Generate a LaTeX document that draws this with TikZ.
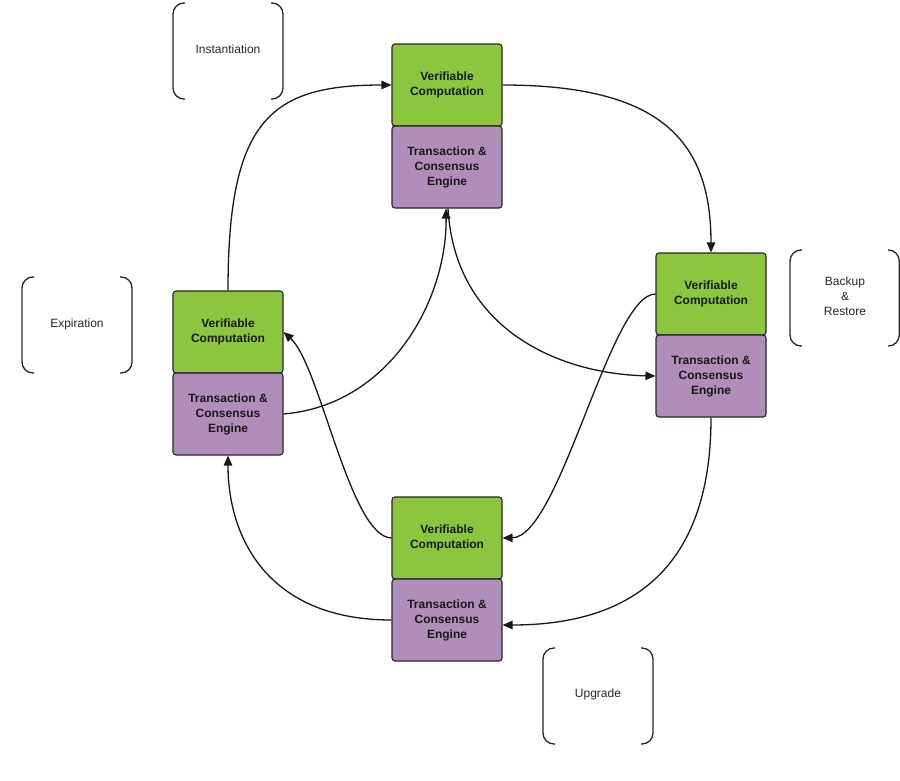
\documentclass[tikz,border=0pt]{standalone}
\usepackage{fontspec}
\setmainfont{Liberation Sans}
\usetikzlibrary{arrows.meta}
\definecolor{vcgreen}{RGB}{140,198,63}
\definecolor{tcpurple}{RGB}{177,141,185}
\definecolor{labgray}{RGB}{40,40,40}
\tikzset{
  box/.style={draw=black!85, line width=1.1pt, rounded corners=3pt, minimum width=110pt, minimum height=82pt, inner sep=0pt, align=center, font=\bfseries\fontsize{12}{15}\selectfont, text=black!90},
  vcbox/.style={box, fill=vcgreen},
  tcbox/.style={box, fill=tcpurple},
  conn/.style={draw=black!90, line width=1.3pt},
  arr/.style={conn, -{Triangle[length=10pt,width=8.5pt]}},
  brack/.style={draw=black!85, line width=1.3pt, rounded corners=11pt},
  blabel/.style={align=center, font=\fontsize{12}{15}\selectfont, text=labgray}
}
\begin{document}
\begin{tikzpicture}[x=1pt,y=-1pt]
\useasboundingbox[fill=white] (0,0) rectangle (900,780);

% boxes
\node[vcbox] (vt) at (447,85) {Verifiable\\Computation};
\node[tcbox] (pt) at (447,167) {Transaction \&\\Consensus\\Engine};
\node[vcbox] (vr) at (711,294) {Verifiable\\Computation};
\node[tcbox] (pr) at (711,376) {Transaction \&\\Consensus\\Engine};
\node[vcbox] (vl) at (228,332) {Verifiable\\Computation};
\node[tcbox] (pl) at (228,414) {Transaction \&\\Consensus\\Engine};
\node[vcbox] (vb) at (447,538) {Verifiable\\Computation};
\node[tcbox] (pb) at (447,620) {Transaction \&\\Consensus\\Engine};

% bracket labels
\node[blabel] (inst) at (228,49) {Instantiation};
\node[blabel] (expi) at (77,324) {Expiration};
\node[blabel] (back) at (845,296) {Backup\\\&\\Restore};
\node[blabel] (upg) at (598,694) {Upgrade};

% brackets
\draw[brack] (185,3) -- (173,3) -- (173,99) -- (185,99);
\draw[brack] (271,3) -- (283,3) -- (283,99) -- (271,99);
\draw[brack] (34,277) -- (22,277) -- (22,373) -- (34,373);
\draw[brack] (120,277) -- (132,277) -- (132,373) -- (120,373);
\draw[brack] (802,250) -- (790,250) -- (790,346) -- (802,346);
\draw[brack] (888,250) -- (899.3,250) -- (899.3,346) -- (888,346);
\draw[brack] (555,648) -- (543,648) -- (543,744) -- (555,744);
\draw[brack] (641,648) -- (653,648) -- (653,744) -- (641,744);

% outer cycle
\draw[arr] (vl.north) .. controls (228,120) and (270,85) .. (vt.west);
\draw[arr] (vt.east) .. controls (660,85) and (711,140) .. (vr.north);
\draw[arr] (pr.south) .. controls (711,560) and (640,625) .. ([yshift=-5pt]pb.east);
\draw[arr] (pb.west) .. controls (270,620) and (228,540) .. (pl.south);

% inner connectors
\draw[arr] (pl.east) .. controls (390,405) and (447,300) .. ([xshift=-1pt]pt.south);
\draw[arr] ([xshift=1pt]pt.south) .. controls (455,330) and (560,374) .. (pr.west);
\draw[arr] (vr.west) .. controls (610,294) and (560,537) .. (vb.east);
\draw[arr] (vb.west) .. controls (350,537) and (320,365) .. (vl.east);
\end{tikzpicture}
\end{document}
